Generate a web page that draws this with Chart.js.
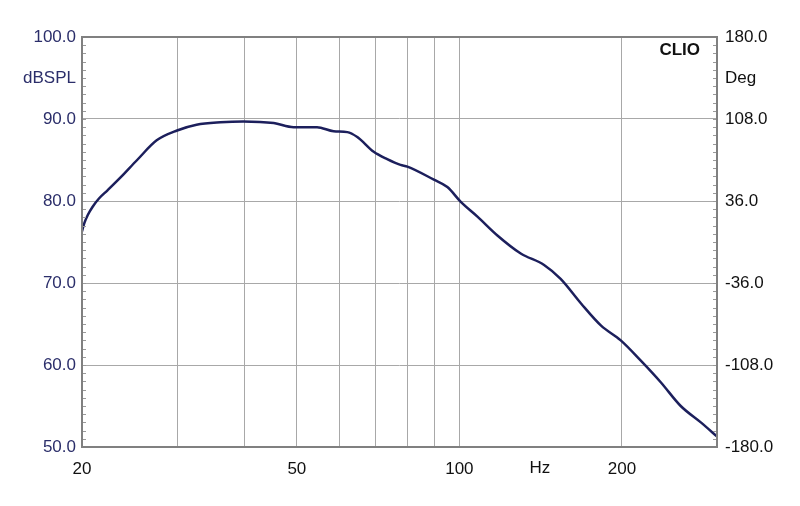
<!DOCTYPE html>
<html>
<head>
<meta charset="utf-8">
<script src="https://cdn.jsdelivr.net/npm/chart.js@4.4.1/dist/chart.umd.min.js"></script>
<style>
  body { margin: 0; background: #fff; }
  #wrap { width: 800px; height: 506px; }
</style>
</head>
<body>
<div id="wrap"><canvas id="chart" width="800" height="506"></canvas></div>
<script>
// frequency response
const freqHz = [20, 20.2, 20.5, 20.93, 21.5, 22.3, 23.6, 25.3, 27.5, 30.0, 32.6, 36.1, 39.8, 45.3, 49.3,
  54.5, 58.5, 62.0, 64.7, 69.4, 73.5, 77.8, 80.1, 89.7, 95.0, 100.6, 108, 117.6, 129.9,
  143.5, 154, 168, 183, 199, 217, 236, 257, 280, 301];
const splDb = [76.3, 77.3, 78.3, 79.3, 80.3, 81.3, 82.9, 85.0, 87.4, 88.6, 89.3, 89.6, 89.7, 89.5, 89.0,
  89.0, 88.5, 88.4, 87.8, 86.0, 85.1, 84.4, 84.2, 82.6, 81.7, 79.9, 78.1, 75.8, 73.6,
  72.2, 70.5, 67.5, 64.8, 63.0, 60.5, 57.9, 55.0, 53.0, 51.2];

const xTicks = [20, 30, 40, 50, 60, 70, 80, 90, 100, 200, 300];
const xLabels = [20, 50, 100, 200];
const dbTicks = [50, 60, 70, 80, 90, 100];
const degTicks = [-180, -108, -36, 36, 108, 180];

const font = { family: "'Liberation Sans', Arial, sans-serif", size: 17 };
const navy = "#1c1f5c";

// frame, minor ticks and the extra labels
const extras = {
  id: "extras",
  afterDraw(c) {
    const g = c.ctx, a = c.chartArea, y = c.scales.y, x = c.scales.x;
    g.save();
    g.strokeStyle = "#9a9a9a";
    g.lineWidth = 1;
    for (let v = 50; v <= 100; v++) {
      const py = Math.round(y.getPixelForValue(v)) + 0.5;
      g.beginPath();
      g.moveTo(a.left, py); g.lineTo(a.left + 4, py);
      g.moveTo(a.right, py); g.lineTo(a.right - 4, py);
      g.stroke();
    }
    g.strokeStyle = "#808080";
    g.lineWidth = 2;
    g.strokeRect(a.left, a.top, a.right - a.left, a.bottom - a.top);

    g.font = "17px 'Liberation Sans', Arial, sans-serif";
    g.textBaseline = "middle";
    g.fillStyle = "#2b2e6a";
    g.textAlign = "right";
    g.fillText("dBSPL", 76, 78);
    g.fillStyle = "#111";
    g.textAlign = "left";
    g.fillText("Deg", 725, 78);
    g.textAlign = "center";
    g.fillText("Hz", x.getPixelForValue(141), 468);
    g.font = "bold 17px 'Liberation Sans', Arial, sans-serif";
    g.textAlign = "right";
    g.fillText("CLIO", 700, 50);
    g.restore();
  }
};

new Chart(document.getElementById("chart"), {
  type: "line",
  data: {
    datasets: [{
      data: freqHz.map((f, i) => ({ x: f, y: splDb[i] })),
      borderColor: navy,
      borderWidth: 2.5,
      pointRadius: 0,
      cubicInterpolationMode: "monotone",
      yAxisID: "y"
    }]
  },
  options: {
    responsive: false,
    animation: false,
    layout: { padding: { top: 37, right: 0, left: 0, bottom: 0 } },
    plugins: { legend: { display: false }, tooltip: { enabled: false } },
    scales: {
      x: {
        type: "logarithmic",
        min: 20, max: 300,
        afterBuildTicks: s => { s.ticks = xTicks.map(v => ({ value: v })); },
        afterFit: s => { s.height = 59; },
        ticks: {
          autoSkip: false, maxRotation: 0, padding: 12, color: "#111", font,
          callback: v => xLabels.includes(v) ? String(v) : ""
        },
        grid: { color: "#a8a8a8", lineWidth: 1, drawTicks: false },
        border: { display: false }
      },
      y: {
        position: "left",
        min: 50, max: 100,
        afterBuildTicks: s => { s.ticks = dbTicks.map(v => ({ value: v })); },
        afterFit: s => { s.width = 82; },
        ticks: { padding: 6, color: "#2b2e6a", font, callback: v => v.toFixed(1) },
        grid: { color: "#a8a8a8", lineWidth: 1, drawTicks: false },
        border: { display: false }
      },
      y2: {
        position: "right",
        min: -180, max: 180,
        afterBuildTicks: s => { s.ticks = degTicks.map(v => ({ value: v })); },
        afterFit: s => { s.width = 83; },
        ticks: { padding: 8, color: "#111", font, callback: v => v.toFixed(1) },
        grid: { display: false, drawTicks: false },
        border: { display: false }
      }
    }
  },
  plugins: [extras]
});
</script>
</body>
</html>
